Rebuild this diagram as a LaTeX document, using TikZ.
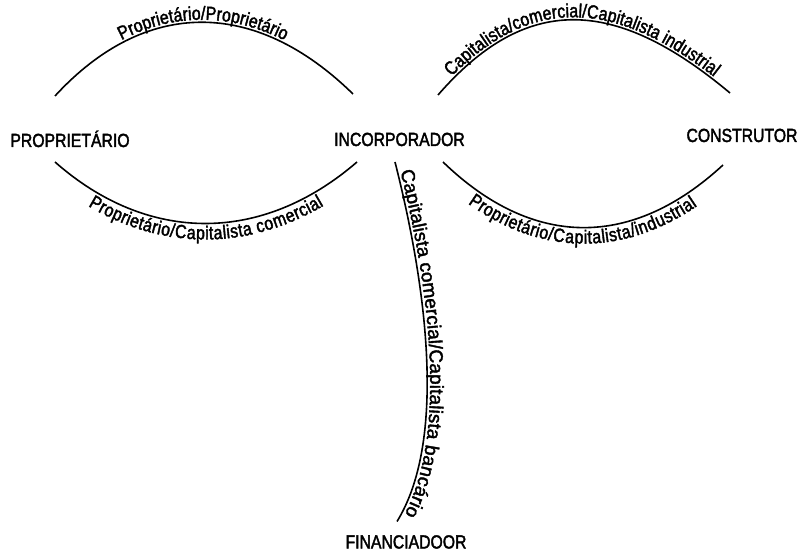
\documentclass[tikz,border=0pt]{standalone}
\usepackage{fontspec}
\setmainfont{Liberation Sans}[FakeStretch=0.83,FakeBold=2]
\newfontfamily\vertfont{Liberation Sans}[FakeBold=2]
\usetikzlibrary{decorations.text}
\newcommand\labfont{\fontsize{19}{22}\selectfont}
\newcommand\vlabfont{\vertfont\fontsize{19}{22}\selectfont}
\begin{document}
\begin{tikzpicture}[x=1pt,y=1pt,
  actor/.style={font=\fontsize{19}{22}\selectfont, inner sep=0pt, anchor=base},
  link/.style={line width=1.6pt},
  above label/.style={postaction={decorate},
    decoration={text along path, text align=center, raise=2.5pt, text={|\labfont|#1}}},
  below label/.style={postaction={decorate},
    decoration={text along path, text align=center, raise=-16pt, text={|\labfont|#1}}},
  side label/.style={postaction={decorate},
    decoration={text along path, text align=center, raise=3pt, text={|\vlabfont|#1}}}
  ]
\useasboundingbox (0,0) rectangle (801,552);
\node[actor] (prop) at (70,405) {PROPRIETÁRIO};
\node[actor] (inc) at (399.5,406) {INCORPORADOR};
\node[actor] (cons) at (742,410) {CONSTRUTOR};
\node[actor] (fin) at (406,3.5) {FINANCIADOOR};

\draw[link, above label={Proprietário/Proprietário}]
  ([shift={(-15,51)}]prop.base) .. controls (145,554) and (255,554) .. ([shift={(-46.5,52)}]inc.base);
\draw[link, below label={Proprietário/Capitalista comercial}]
  ([shift={(-15,-15)}]prop.base) .. controls (148,308) and (262,308) .. ([shift={(-42.5,-16)}]inc.base);
\draw[link, above label={Capitalista/comercial/Capitalista industrial}]
  ([shift={(38.5,51)}]inc.base) .. controls (525,557) and (613,557) .. ([shift={(-12,49)}]cons.base);
\draw[link, below label={Proprietário/Capitalista/industrial}]
  ([shift={(43.5,-16)}]inc.base) .. controls (533,303) and (632,303) .. ([shift={(-19,-23)}]cons.base);
\draw[link, side label={Capitalista comercial/Capitalista bancário}]
  ([shift={(-4.5,-16)}]inc.base) .. controls (428,260) and (446,110) .. ([shift={(-9,27)}]fin.base);
\end{tikzpicture}
\end{document}
